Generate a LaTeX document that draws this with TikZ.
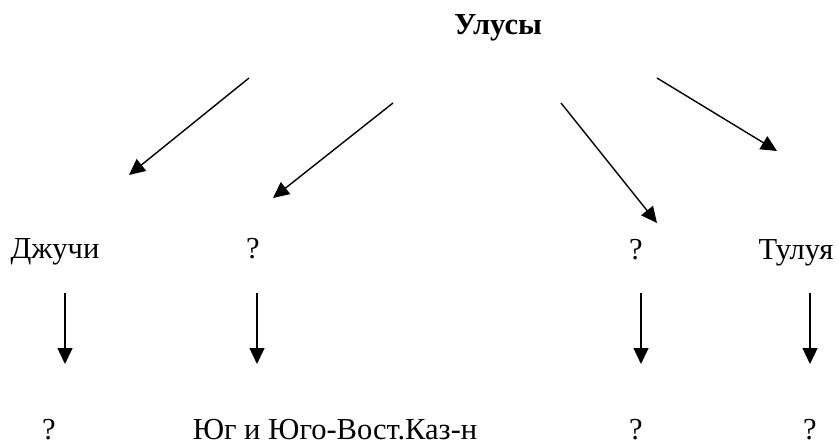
\documentclass[tikz,border=0pt]{standalone}
\usepackage{fontspec}
\setmainfont{Liberation Serif}
\usetikzlibrary{arrows.meta}
\begin{document}
\begin{tikzpicture}[x=1pt,y=-1pt,
  lbl/.style={anchor=base,inner sep=0pt,font=\fontsize{30.5}{36}\selectfont},
  ttl/.style={anchor=base,inner sep=0pt,font=\fontsize{30.5}{36}\selectfont\bfseries},
  arr/.style={line width=1.4pt,-{Triangle[length=16pt,width=15pt]}}]
\useasboundingbox (0,0) rectangle (839,444);
% labels
\node[ttl] (ulus) at (498,35) {Улусы};
\node[lbl] (dzh) at (55,258) {Джучи};
\node[lbl] (q1) at (253,258) {?};
\node[lbl] (q2) at (636,259) {?};
\node[lbl] (tul) at (796,259) {Тулуя};
\node[lbl] (b1) at (49,439) {?};
\node[lbl] (b2) at (335,439) {Юг и Юго-Вост.Каз-н};
\node[lbl] (b3) at (636,439) {?};
\node[lbl] (b4) at (810,439) {?};
% arrow end points
\coordinate (s1) at (249,78);  \coordinate (e1) at (129,175);
\coordinate (s2) at (393,103); \coordinate (e2) at (273,198);
\coordinate (s3) at (561,103); \coordinate (e3) at (657,223);
\coordinate (s4) at (657,78);  \coordinate (e4) at (777,151);
\coordinate (v1s) at (65,293);  \coordinate (v1e) at (65,364);
\coordinate (v2s) at (257,293); \coordinate (v2e) at (257,364);
\coordinate (v3s) at (641,293); \coordinate (v3e) at (641,364);
\coordinate (v4s) at (810,293); \coordinate (v4e) at (810,364);
\draw[arr] (s1) -- (e1);
\draw[arr] (s2) -- (e2);
\draw[arr] (s3) -- (e3);
\draw[arr] (s4) -- (e4);
\draw[arr] (v1s) -- (v1e);
\draw[arr] (v2s) -- (v2e);
\draw[arr] (v3s) -- (v3e);
\draw[arr] (v4s) -- (v4e);
\end{tikzpicture}
\end{document}
